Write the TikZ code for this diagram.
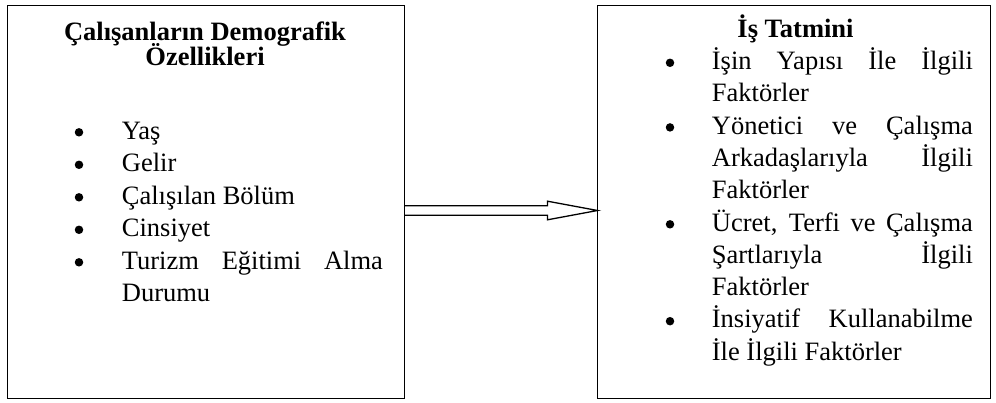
\documentclass[tikz,border=0pt]{standalone}
\usepackage{fontspec}
\setmainfont{Liberation Serif}
\usetikzlibrary{calc}
% a line set full width with stretched word spaces
\newcommand\justline[1]{\makebox[261pt][s]{#1}}
\begin{document}
\begin{tikzpicture}[x=1pt,y=-1pt,
  panel/.style={draw, line width=1pt, minimum width=#1, minimum height=393pt, inner sep=0pt},
  head/.style={font=\fontsize{26.5}{30}\selectfont\bfseries, anchor=base, inner sep=0pt},
  item/.style={font=\fontsize{26.5}{30}\selectfont, anchor=base west, inner sep=0pt},
  dot/.style={circle, fill, inner sep=0pt, minimum size=8.5pt},
]
\useasboundingbox (0,0) rectangle (996,402);

% the two boxes
\node[panel=397pt] (L) at (205.5,201.5) {};
\node[panel=393pt] (R) at (793.5,201.5) {};

% left box: title and list
\node[head] (lt1) at (205,40) {Çalışanların Demografik};
\node[head] (lt2) at (205,65.5) {Özellikleri};

\node[item] (l1) at (121.7,139) {Yaş};
\node[item] (l2) at (121.7,171.5) {Gelir};
\node[item] (l3) at (121.7,204) {Çalışılan Bölüm};
\node[item] (l4) at (121.7,236.5) {Cinsiyet};
\node[item] (l5) at (121.7,269) {\justline{Turizm Eğitimi Alma}};
\node[item] (l6) at (121.7,301.5) {Durumu};

\node[dot] (lb1) at (79,132.3) {};
\node[dot] (lb2) at (79,164.8) {};
\node[dot] (lb3) at (79,197.3) {};
\node[dot] (lb4) at (79,229.8) {};
\node[dot] (lb5) at (79,262.3) {};

% right box: title and list
\node[head] (rt) at (795.5,37.5) {İş Tatmini};

\node[item] (r1) at (711.7,69.5) {\justline{İşin Yapısı İle İlgili}};
\node[item] (r2) at (711.7,101.8) {Faktörler};
\node[item] (r3) at (711.7,134.1) {\justline{Yönetici ve Çalışma}};
\node[item] (r4) at (711.7,166.4) {\justline{Arkadaşlarıyla İlgili}};
\node[item] (r5) at (711.7,198.7) {Faktörler};
\node[item] (r6) at (711.7,231) {\justline{Ücret, Terfi ve Çalışma}};
\node[item] (r7) at (711.7,263.3) {\justline{Şartlarıyla İlgili}};
\node[item] (r8) at (711.7,295.6) {Faktörler};
\node[item] (r9) at (711.7,327.9) {\justline{İnsiyatif Kullanabilme}};
\node[item] (r10) at (711.7,360.2) {İle İlgili Faktörler};

\node[dot] (rb1) at (670,62.8) {};
\node[dot] (rb2) at (670,127.4) {};
\node[dot] (rb3) at (670,224.3) {};
\node[dot] (rb4) at (670,321.2) {};

% hollow block arrow from the left box to the right box
\coordinate (as) at ($(L.east)+(0,9)$);
\coordinate (ae) at ($(R.west)+(1,9)$);
\draw[line width=1.3pt, line join=miter]
  ($(as)+(0,-4.7)$) -- ($(ae)+(-50,-4.7)$) -- ($(ae)+(-50,-9.3)$) -- (ae)
  -- ($(ae)+(-50,9.3)$) -- ($(ae)+(-50,4.7)$) -- ($(as)+(0,4.7)$);
\end{tikzpicture}
\end{document}
